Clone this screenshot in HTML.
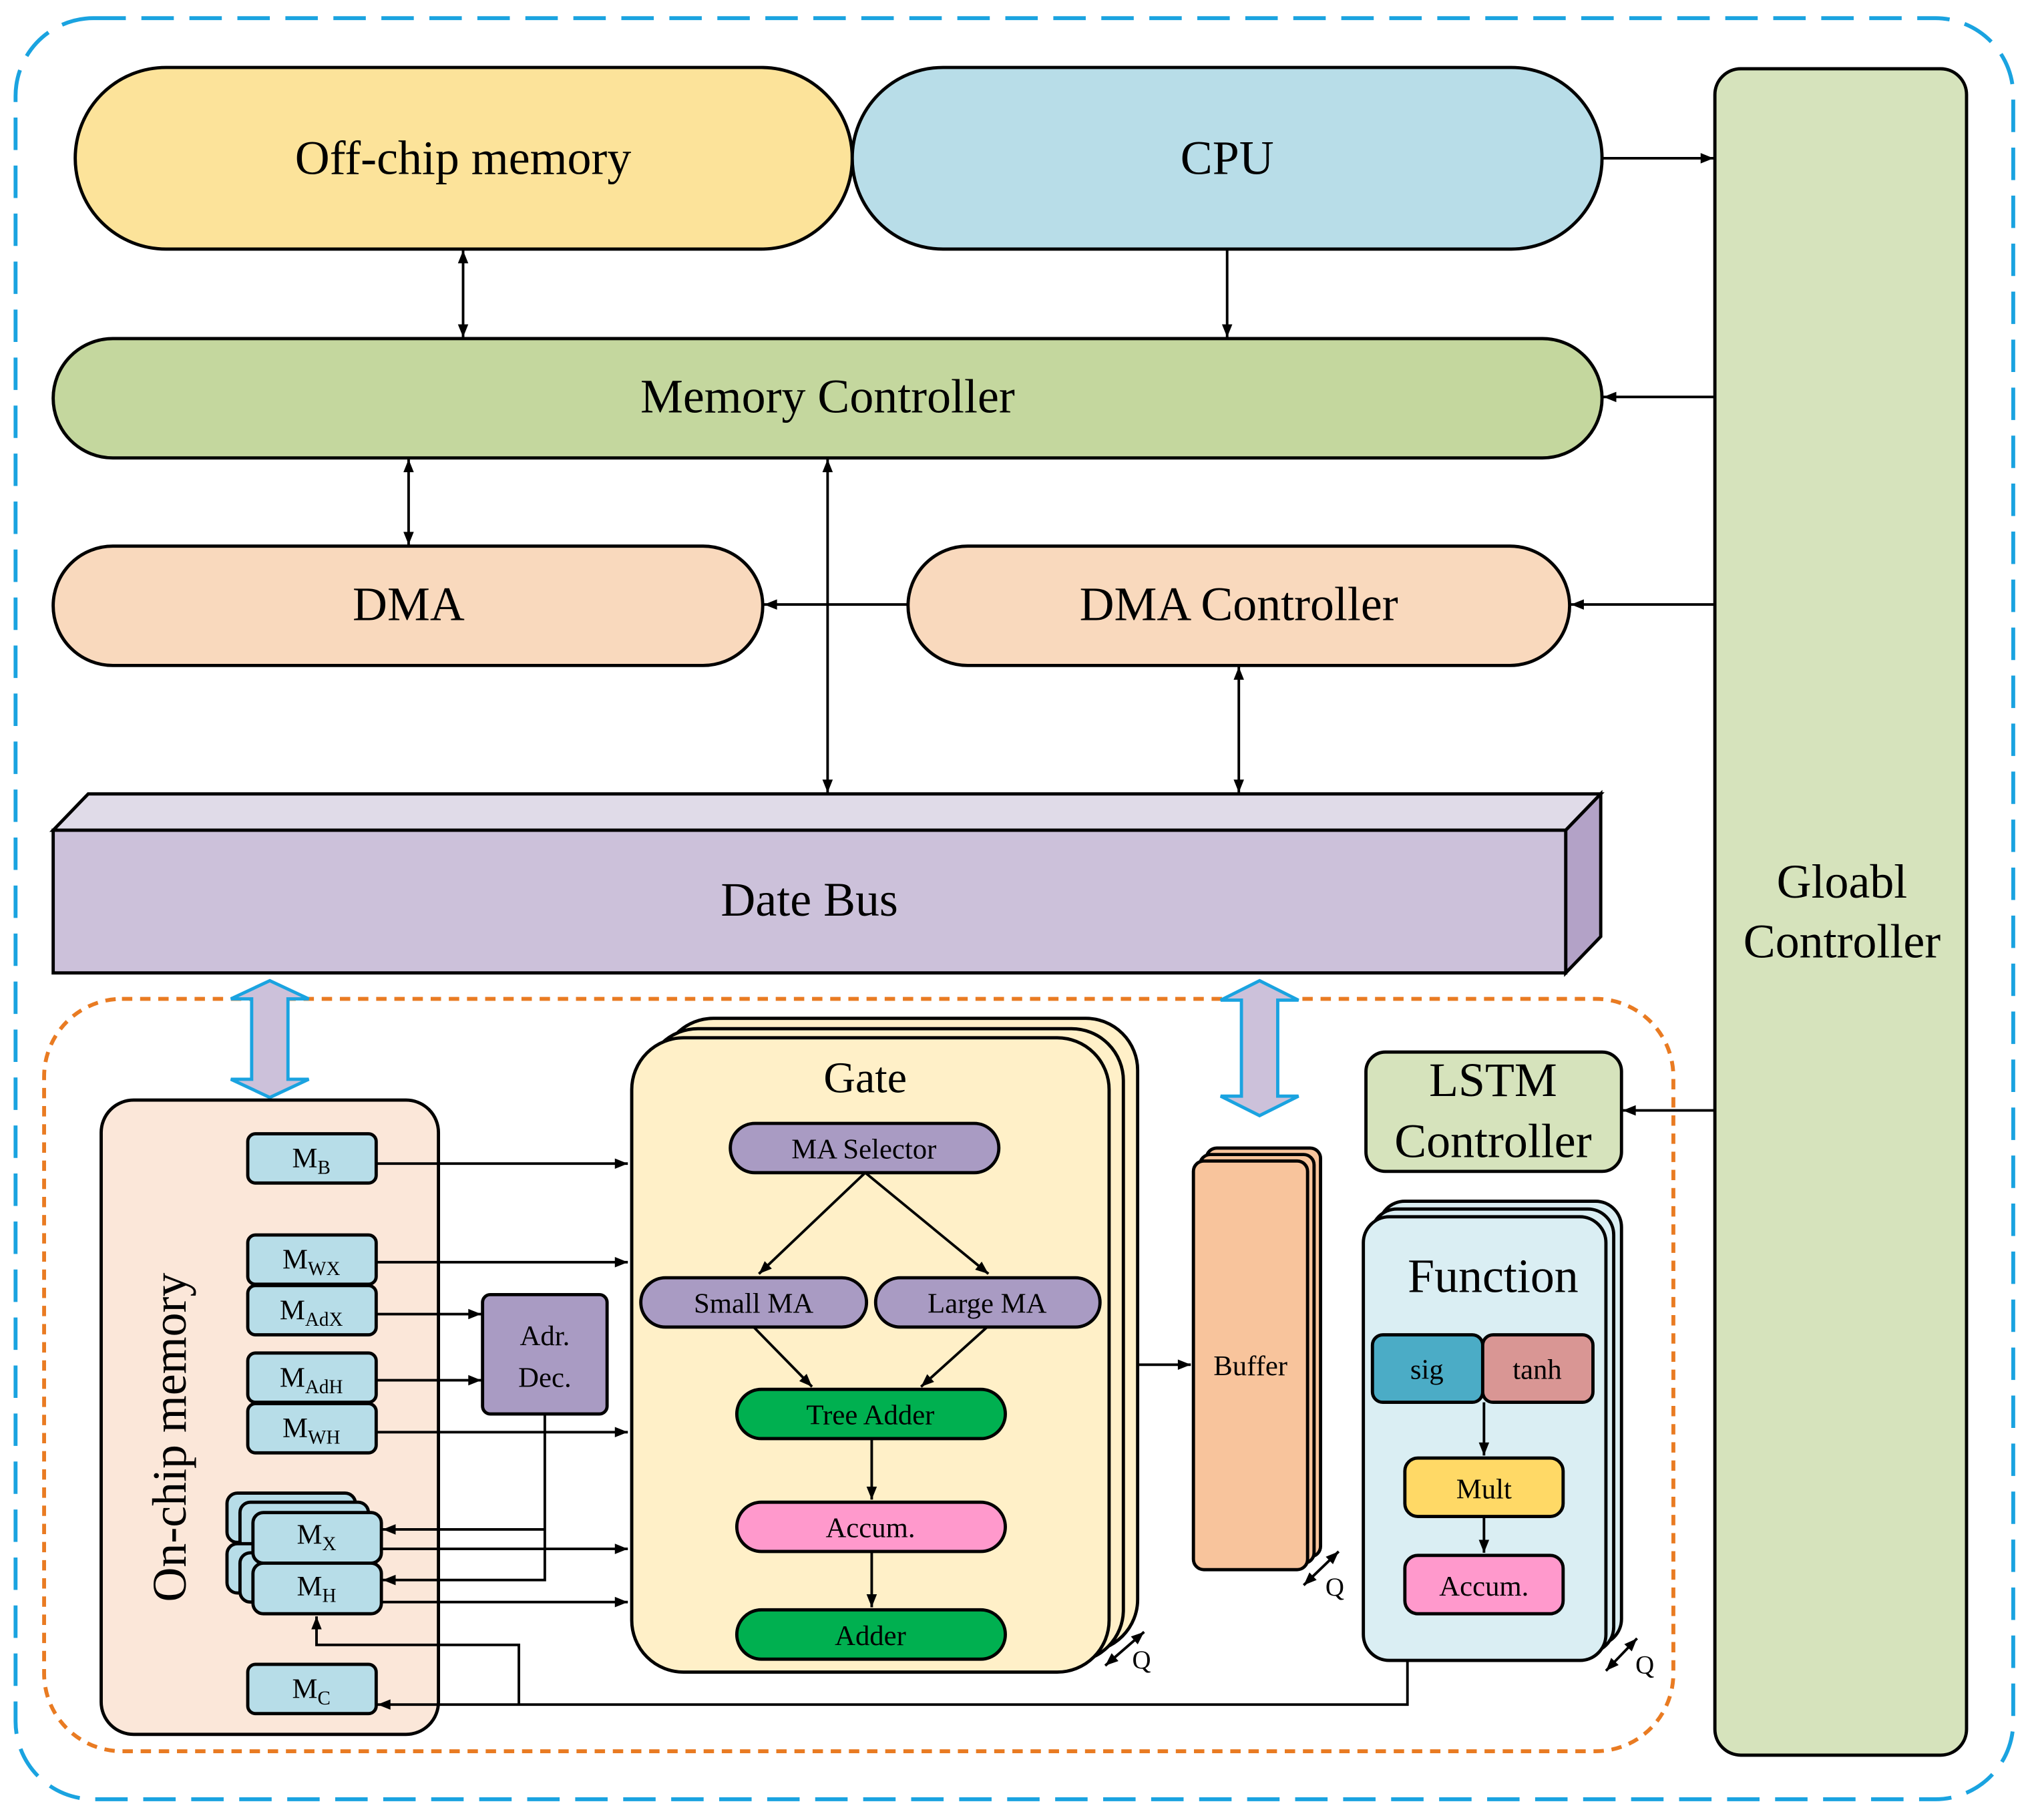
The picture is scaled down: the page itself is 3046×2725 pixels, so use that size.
<!DOCTYPE html>
<html><head><meta charset="utf-8"><style>
html,body{margin:0;padding:0;background:#fff;}
svg{display:block;}
text{font-family:"Liberation Serif",serif;fill:#000;}
</style></head><body>
<svg width="3046" height="2725" viewBox="0 0 1568 1403" preserveAspectRatio="none" xmlns="http://www.w3.org/2000/svg">
<defs>
<marker id="a" viewBox="0 0 10 10" refX="10" refY="5" markerWidth="11" markerHeight="10" orient="auto-start-reverse" markerUnits="userSpaceOnUse"><path d="M0,1 L10,5 L0,9 z" fill="#000"/></marker>
</defs>
<g stroke="#000" stroke-width="2.5">
<rect x="12" y="14" width="1540" height="1373" rx="60" fill="none" stroke="#1aa3e0" stroke-width="3" stroke-dasharray="25 12"/>
<rect x="58" y="52" width="599" height="140" rx="70" fill="#fce39a"/>
<rect x="657" y="52" width="578" height="140" rx="70" fill="#b8dde8"/>
<rect x="1322" y="53" width="194" height="1300" rx="20" fill="#d6e3bc"/>
<rect x="41" y="261" width="1194" height="92" rx="46" fill="#c4d79e"/>
<rect x="41" y="421" width="547" height="92" rx="46" fill="#f9d9bd"/>
<rect x="700" y="421" width="510" height="92" rx="46" fill="#f9d9bd"/>
<polygon points="41,640 68,612 1234,612 1207,640" fill="#e0dbe8"/>
<polygon points="1207,640 1234,612 1234,722 1207,750" fill="#b3a2c7"/>
<rect x="41" y="640" width="1166" height="110" fill="#ccc1da"/>
</g>
<g stroke="#000" stroke-width="2" fill="none">
<line x1="1235" y1="122" x2="1321" y2="122" marker-end="url(#a)"/>
<line x1="1322" y1="306" x2="1236" y2="306" marker-end="url(#a)"/>
<line x1="1322" y1="466" x2="1211" y2="466" marker-end="url(#a)"/>
<line x1="700" y1="466" x2="589" y2="466" marker-end="url(#a)"/>
<line x1="357" y1="193" x2="357" y2="260" marker-start="url(#a)" marker-end="url(#a)"/>
<line x1="946" y1="192" x2="946" y2="260" marker-end="url(#a)"/>
<line x1="315" y1="354" x2="315" y2="420" marker-start="url(#a)" marker-end="url(#a)"/>
<line x1="638" y1="354" x2="638" y2="611" marker-start="url(#a)" marker-end="url(#a)"/>
<line x1="955" y1="514" x2="955" y2="611" marker-start="url(#a)" marker-end="url(#a)"/>
<line x1="1322" y1="856" x2="1251" y2="856" marker-end="url(#a)"/>
</g>
<rect x="34" y="770" width="1256" height="580" rx="60" fill="none" stroke="#e97b22" stroke-width="3" stroke-dasharray="8 6"/>
<g fill="#ccc1da" stroke="#1aa3e0" stroke-width="2.5">
<polygon points="208,756 238,770 222,770 222,832 238,832 208,846 178,832 194,832 194,770 178,770"/>
<polygon points="971,756 1001,771 985,771 985,845 1001,845 971,860 941,845 957,845 957,771 941,771"/>
</g>
<g stroke="#000" stroke-width="2.5">
<rect x="78" y="848" width="260" height="489" rx="25" fill="#fbe7d9"/>
<rect x="510" y="785" width="367" height="488" rx="40" fill="#fff0c8"/>
<rect x="498" y="793" width="368" height="488" rx="40" fill="#fff0c8"/>
<rect x="487" y="800" width="368" height="489" rx="40" fill="#fff0c8"/>
<rect x="930" y="885" width="88" height="315" rx="8" fill="#f8c49c"/>
<rect x="925" y="890" width="88" height="315" rx="8" fill="#f8c49c"/>
<rect x="920" y="895" width="88" height="315" rx="8" fill="#f8c49c"/>
<rect x="1053" y="811" width="197" height="92" rx="15" fill="#d6e3bc"/>
<rect x="1063" y="926" width="187" height="342" rx="20" fill="#daeef3"/>
<rect x="1057" y="932" width="187" height="342" rx="20" fill="#daeef3"/>
<rect x="1051" y="938" width="187" height="342" rx="20" fill="#daeef3"/>
</g>
<g stroke="#000" stroke-width="2.5" fill="#b7dde8">
<rect x="191" y="874" width="99" height="38" rx="6"/>
<rect x="191" y="952" width="99" height="38" rx="6"/>
<rect x="191" y="991" width="99" height="38" rx="6"/>
<rect x="191" y="1043" width="99" height="38" rx="6"/>
<rect x="191" y="1082" width="99" height="38" rx="6"/>
<rect x="175" y="1151" width="99" height="38" rx="8"/>
<rect x="185" y="1158" width="99" height="38" rx="8"/>
<rect x="175" y="1190" width="99" height="38" rx="8"/>
<rect x="185" y="1197" width="99" height="38" rx="8"/>
<rect x="195" y="1166" width="99" height="39" rx="8"/>
<rect x="195" y="1205" width="99" height="39" rx="8"/>
<rect x="191" y="1283" width="99" height="38" rx="6"/>
<rect x="372" y="998" width="96" height="92" rx="6" fill="#a99bc3"/>
<rect x="563" y="866" width="207" height="38" rx="19" fill="#a99bc3"/>
<rect x="494" y="985" width="174" height="38" rx="19" fill="#a99bc3"/>
<rect x="675" y="985" width="173" height="38" rx="19" fill="#a99bc3"/>
<rect x="568" y="1071" width="207" height="38" rx="19" fill="#00b050"/>
<rect x="568" y="1158" width="207" height="38" rx="19" fill="#ff99cc"/>
<rect x="568" y="1241" width="207" height="38" rx="19" fill="#00b050"/>
<rect x="1058" y="1029" width="85" height="52" rx="8" fill="#4bacc6"/>
<rect x="1143" y="1029" width="85" height="52" rx="8" fill="#d99694"/>
<rect x="1083" y="1124" width="122" height="45" rx="10" fill="#ffd966"/>
<rect x="1083" y="1199" width="122" height="45" rx="10" fill="#ff99cc"/>
</g>
<g stroke="#000" stroke-width="2" fill="none">
<line x1="290" y1="897" x2="484" y2="897" marker-end="url(#a)"/>
<line x1="290" y1="973" x2="484" y2="973" marker-end="url(#a)"/>
<line x1="290" y1="1013" x2="371" y2="1013" marker-end="url(#a)"/>
<line x1="290" y1="1064" x2="371" y2="1064" marker-end="url(#a)"/>
<line x1="290" y1="1104" x2="484" y2="1104" marker-end="url(#a)"/>
<line x1="294" y1="1194" x2="484" y2="1194" marker-end="url(#a)"/>
<line x1="294" y1="1235" x2="484" y2="1235" marker-end="url(#a)"/>
<polyline points="420,1090 420,1218 295,1218" marker-end="url(#a)"/>
<line x1="420" y1="1179" x2="295" y2="1179" marker-end="url(#a)"/>
<line x1="667" y1="904" x2="585" y2="982" marker-end="url(#a)"/>
<line x1="667" y1="904" x2="762" y2="982" marker-end="url(#a)"/>
<line x1="581" y1="1023" x2="626" y2="1069" marker-end="url(#a)"/>
<line x1="761" y1="1023" x2="710" y2="1069" marker-end="url(#a)"/>
<line x1="672" y1="1109" x2="672" y2="1156" marker-end="url(#a)"/>
<line x1="672" y1="1196" x2="672" y2="1239" marker-end="url(#a)"/>
<line x1="877" y1="1052" x2="918" y2="1052" marker-end="url(#a)"/>
<line x1="1144" y1="1081" x2="1144" y2="1122" marker-end="url(#a)"/>
<line x1="1144" y1="1169" x2="1144" y2="1197" marker-end="url(#a)"/>
<polyline points="1085,1280 1085,1314 291,1314" marker-end="url(#a)"/>
<polyline points="400,1314 400,1268 244,1268 244,1246" marker-end="url(#a)"/>
<line x1="852" y1="1284" x2="882" y2="1258" marker-start="url(#a)" marker-end="url(#a)"/>
<line x1="1005" y1="1222" x2="1032" y2="1196" marker-start="url(#a)" marker-end="url(#a)"/>
<line x1="1238" y1="1288" x2="1262" y2="1263" marker-start="url(#a)" marker-end="url(#a)"/>
</g>
<g text-anchor="middle">
<text x="357" y="134" font-size="37">Off-chip memory</text>
<text x="946" y="134" font-size="37">CPU</text>
<text x="638" y="318" font-size="37">Memory Controller</text>
<text x="315" y="478" font-size="37">DMA</text>
<text x="955" y="478" font-size="37">DMA Controller</text>
<text x="624" y="706" font-size="37">Date Bus</text>
<text x="1420" y="692" font-size="37">Gloabl</text>
<text x="1420" y="738" font-size="37">Controller</text>
<text x="1151" y="845" font-size="37">LSTM</text>
<text x="1151" y="892" font-size="37">Controller</text>
<text x="1151" y="996" font-size="37">Function</text>
<text x="667" y="842" font-size="34">Gate</text>
<text x="964" y="1060" font-size="22">Buffer</text>
<text x="143" y="1108" font-size="37" transform="rotate(-90 143 1108)">On-chip memory</text>
<text x="420" y="1037" font-size="22">Adr.</text>
<text x="420" y="1069" font-size="22">Dec.</text>
<text x="666" y="893" font-size="22">MA Selector</text>
<text x="581" y="1012" font-size="22">Small MA</text>
<text x="761" y="1012" font-size="22">Large MA</text>
<text x="671" y="1098" font-size="22">Tree Adder</text>
<text x="671" y="1185" font-size="22">Accum.</text>
<text x="671" y="1268" font-size="22">Adder</text>
<text x="1100" y="1063" font-size="22">sig</text>
<text x="1185" y="1063" font-size="22">tanh</text>
<text x="1144" y="1155" font-size="22">Mult</text>
<text x="1144" y="1230" font-size="22">Accum.</text>
<text x="880" y="1286" font-size="20">Q</text>
<text x="1029" y="1230" font-size="20">Q</text>
<text x="1268" y="1290" font-size="20">Q</text>
<text x="240" y="900" font-size="22">M<tspan font-size="15" dy="5">B</tspan></text>
<text x="240" y="978" font-size="22">M<tspan font-size="15" dy="5">WX</tspan></text>
<text x="240" y="1017" font-size="22">M<tspan font-size="15" dy="5">AdX</tspan></text>
<text x="240" y="1069" font-size="22">M<tspan font-size="15" dy="5">AdH</tspan></text>
<text x="240" y="1108" font-size="22">M<tspan font-size="15" dy="5">WH</tspan></text>
<text x="244" y="1190" font-size="22">M<tspan font-size="15" dy="5">X</tspan></text>
<text x="244" y="1230" font-size="22">M<tspan font-size="15" dy="5">H</tspan></text>
<text x="240" y="1309" font-size="22">M<tspan font-size="15" dy="5">C</tspan></text>
</g>
</svg>
</body></html>
